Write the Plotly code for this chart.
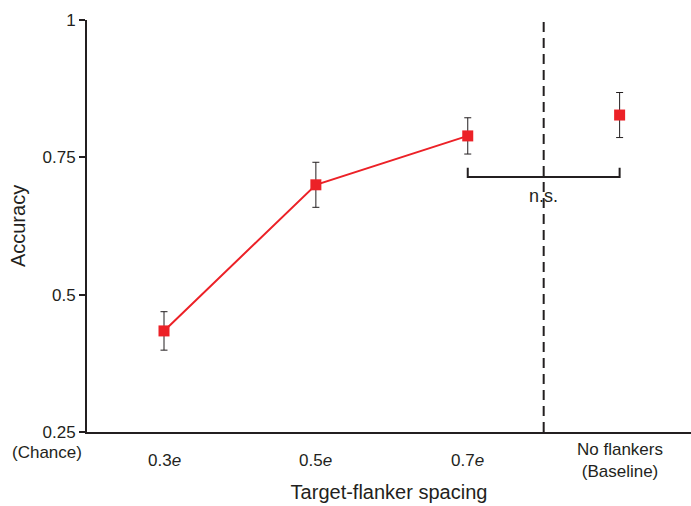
import plotly.graph_objects as go

categories = ["0.3<i>e</i>", "0.5<i>e</i>", "0.7<i>e</i>", "No flankers<br>(Baseline)"]
accuracy = [0.434, 0.700, 0.789, 0.827]
err = [0.035, 0.041, 0.033, 0.041]
y_ticks = [0.25, 0.5, 0.75, 1]
y_ticktext = ["0.25", "0.5", "0.75", "1"]
bracket_low, bracket_high = 0.714, 0.731

xpos = list(range(len(categories)))
red = "#ec2127"
dark = "#231f20"
font = "Liberation Sans, Arial, sans-serif"

fig = go.Figure()
fig.add_trace(go.Scatter(
    x=xpos[:3], y=accuracy[:3], mode="lines+markers",
    line=dict(color=red, width=2),
    marker=dict(symbol="square", size=11, color=red),
    error_y=dict(type="data", array=err[:3], color=dark, thickness=1, width=3.5),
    showlegend=False))
fig.add_trace(go.Scatter(
    x=xpos[3:], y=accuracy[3:], mode="markers",
    marker=dict(symbol="square", size=11, color=red),
    error_y=dict(type="data", array=err[3:], color=dark, thickness=1, width=3.5),
    showlegend=False))

# dashed divider between flanker conditions and baseline
fig.add_shape(type="line", xref="x", yref="y", x0=2.5, x1=2.5, y0=0.25, y1=1,
              line=dict(color=dark, width=2, dash="10px,6px"))
# n.s. bracket
fig.add_shape(type="path", xref="x", yref="y",
              path=f"M 2,{bracket_high} L 2,{bracket_low} L 3,{bracket_low} L 3,{bracket_high}",
              line=dict(color=dark, width=2))
fig.add_annotation(x=2.5, y=bracket_low, xref="x", yref="y", text="n.s.", showarrow=False,
                   yanchor="middle", yshift=-19, font=dict(size=18, color=dark, family=font))

# x category labels, vertically centred below the axis
for xp, lab in zip(xpos, categories):
    fig.add_annotation(x=xp, y=-0.069, xref="x", yref="paper", text=lab, showarrow=False,
                       yanchor="middle", font=dict(size=17, color=dark, family=font))
fig.add_annotation(x=0, y=0.25, xref="paper", yref="y", text="(Chance)", showarrow=False,
                   xanchor="right", yanchor="middle", xshift=-3, yshift=-20,
                   font=dict(size=17, color=dark, family=font))

fig.update_layout(
    width=691, height=506,
    margin=dict(l=87, r=0, t=20, b=74),
    paper_bgcolor="white", plot_bgcolor="white",
    font=dict(family=font, size=17, color=dark),
    xaxis=dict(range=[-0.507, 3.47], showticklabels=False, ticks="", showgrid=False,
               zeroline=False, showline=True, linecolor=dark, linewidth=2,
               title=dict(text="Target-flanker spacing", font=dict(size=20), standoff=52)),
    yaxis=dict(range=[0.25, 1], tickvals=y_ticks, ticktext=y_ticktext, ticks="outside",
               ticklen=6, tickwidth=2, tickcolor=dark, showgrid=False, zeroline=False,
               showline=True, linecolor=dark, linewidth=2,
               title=dict(text="Accuracy", font=dict(size=20), standoff=12)),
)
fig.write_html("out.html", config={"displayModeBar": False},
               post_script="document.body.style.margin='0';document.body.style.overflow='hidden';")
